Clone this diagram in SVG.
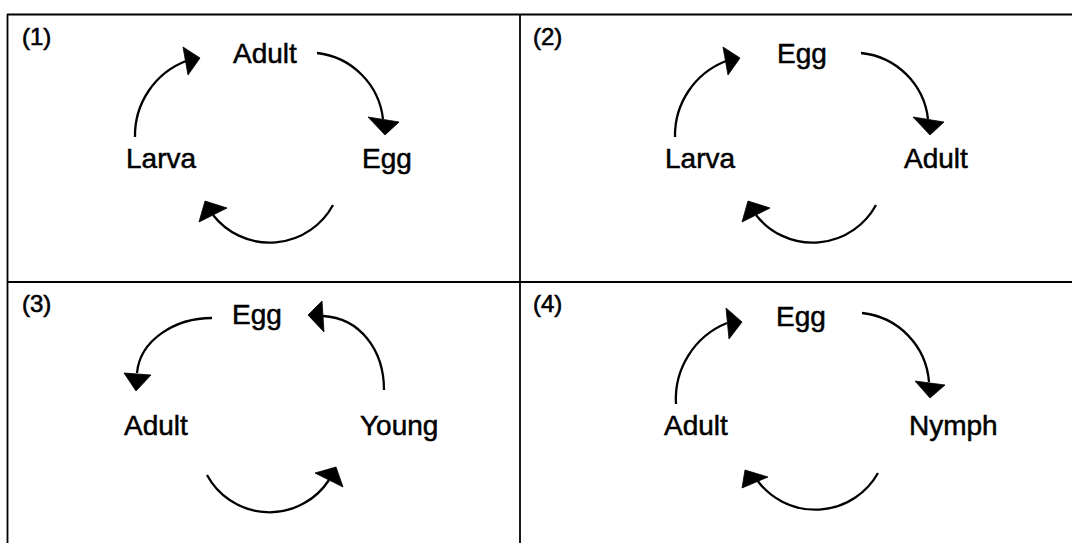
<svg xmlns="http://www.w3.org/2000/svg" width="1072" height="543" viewBox="0 0 1072 543">
<style>
.frame{stroke:#000;stroke-width:1.8;fill:none}
.arc{stroke:#000;stroke-width:2.3;fill:none}
.head{fill:#000;stroke:#000;stroke-width:0.8;stroke-linejoin:round}
.lbl{font-family:"Liberation Sans",Arial,sans-serif;font-size:28px;fill:#000;stroke:#000;stroke-width:0.5}
.num{font-family:"Liberation Sans",Arial,sans-serif;font-size:24px;fill:#000;stroke:#000;stroke-width:0.6}
</style>
<rect width="1072" height="543" fill="#fff"/>
<g id="frame">
<line class="frame" x1="7" y1="14.5" x2="1072" y2="14.5"/>
<line class="frame" x1="7.5" y1="14" x2="7.5" y2="543"/>
<line class="frame" x1="520" y1="14" x2="520" y2="543"/>
<line class="frame" x1="7" y1="282" x2="1072" y2="282"/>
</g>
<g id="panel1">
<text class="num" x="22" y="45">(1)</text>
<g id="p1-adult"><text class="lbl" x="233" y="63">Adult</text></g>
<g id="p1-larva"><text class="lbl" x="126" y="168">Larva</text></g>
<g id="p1-egg"><text class="lbl" x="362" y="168">Egg</text></g>
</g>
<g id="panel2">
<text class="num" x="533" y="45">(2)</text>
<g id="p2-egg"><text class="lbl" x="777" y="63">Egg</text></g>
<g id="p2-larva"><text class="lbl" x="665" y="168">Larva</text></g>
<g id="p2-adult"><text class="lbl" x="904" y="168">Adult</text></g>
</g>
<g id="panel3">
<text class="num" x="22" y="312">(3)</text>
<g id="p3-egg"><text class="lbl" x="232" y="324">Egg</text></g>
<g id="p3-adult"><text class="lbl" x="124" y="435">Adult</text></g>
<g id="p3-young"><text class="lbl" x="360" y="435">Young</text></g>
</g>
<g id="panel4">
<text class="num" x="533" y="312">(4)</text>
<g id="p4-egg"><text class="lbl" x="776" y="326">Egg</text></g>
<g id="p4-adult"><text class="lbl" x="664" y="435">Adult</text></g>
<g id="p4-nymph"><text class="lbl" x="909" y="435">Nymph</text></g>
</g>
<g id="connectors">
<path class="arc" d="M135,137 A80,80 0 0 1 186,61"/>
<polygon class="head" points="183,47 200,58 188,75"/>
<path class="arc" d="M317,53 A75,75 0 0 1 383,119"/>
<polygon class="head" points="368,117 399,122 385,135"/>
<path class="arc" d="M333,205 A72,72 0 0 1 213,215"/>
<polygon class="head" points="205,201 227,208 199,222"/>

<path class="arc" d="M675,137 A80,80 0 0 1 726,61"/>
<polygon class="head" points="723,47 740,58 728,75"/>
<path class="arc" d="M861,53 A75,75 0 0 1 928,119"/>
<polygon class="head" points="913,117 944,122 930,135"/>
<path class="arc" d="M876,205 A72,72 0 0 1 756,215"/>
<polygon class="head" points="748,201 770,208 742,222"/>

<path class="arc" d="M212,318 C175,318 140,340 137,373"/>
<polygon class="head" points="124,373 151,375 136,391"/>
<path class="arc" d="M384,390 C384,350 360,318 323,316"/>
<polygon class="head" points="322,301 324,332 308,315"/>
<path class="arc" d="M207,475 A71,71 0 0 0 329,480"/>
<polygon class="head" points="315,473 343,487 336,467"/>

<path class="arc" d="M676,404 A82,82 0 0 1 727,323"/>
<polygon class="head" points="726,308 742,322 729,339"/>
<path class="arc" d="M862,313 A75,75 0 0 1 929,382"/>
<polygon class="head" points="915,381 945,385 930,398"/>
<path class="arc" d="M878,473 A72,72 0 0 1 757,480"/>
<polygon class="head" points="745,470 768,477 742,488"/>
</g>
</svg>
